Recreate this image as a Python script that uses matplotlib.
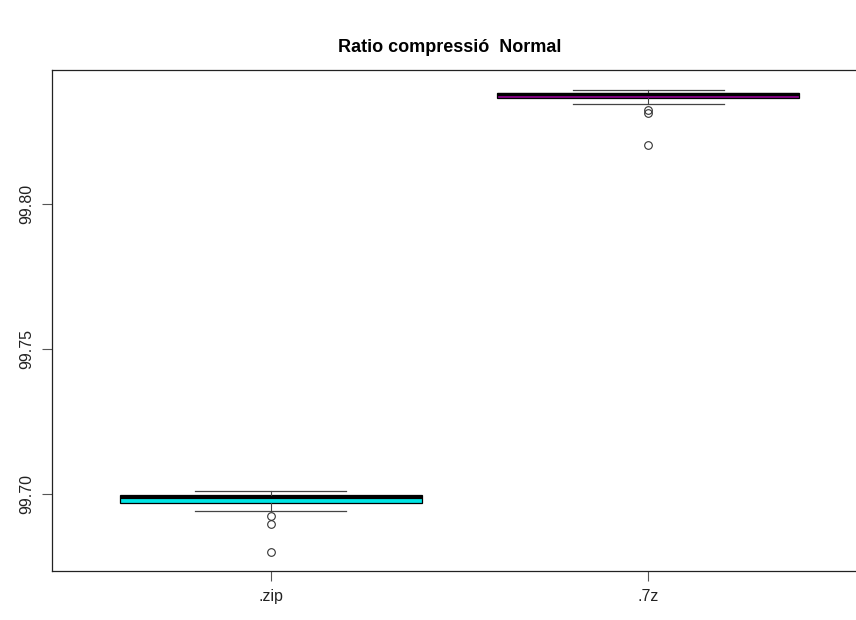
import matplotlib
matplotlib.use("Agg")
import matplotlib.pyplot as plt

# box statistics (R boxplot)
labels = [".zip", ".7z"]
whislo = [99.6941, 99.8345]
q1 = [99.6968, 99.8364]
med = [99.6988, 99.8379]
q3 = [99.6995, 99.8384]
whishi = [99.7010, 99.8393]
fliers = [[99.6925, 99.6895, 99.6801], [99.8324, 99.8314, 99.8203]]
fills = ["#00e5e5", "#8b008b"]

plt.rcParams['font.family'] = ['Liberation Sans', 'DejaVu Sans']

W, H = 856, 620
fig = plt.figure(figsize=(W / 100, H / 100), dpi=100)
# plot region: left 52px, top 70px, bottom 571px, right edge runs past the canvas
ax = fig.add_axes([52 / W, (H - 571) / H, (867 - 52) / W, (571 - 70) / H])

stats = []
for i in range(len(labels)):
    stats.append({"label": labels[i], "whislo": whislo[i], "q1": q1[i], "med": med[i],
                  "q3": q3[i], "whishi": whishi[i], "fliers": fliers[i]})

bp = ax.bxp(stats, positions=[1, 2], widths=0.8, capwidths=0.4, patch_artist=True,
            boxprops=dict(edgecolor="black", linewidth=0.9),
            medianprops=dict(color="black", linewidth=2.3),
            whiskerprops=dict(color="#444444", linewidth=0.8),
            capprops=dict(color="#444444", linewidth=0.9),
            flierprops=dict(marker="o", markerfacecolor="none", markeredgecolor="#333333",
                            markersize=5.5, markeredgewidth=0.8))
for patch, c in zip(bp["boxes"], fills):
    patch.set_facecolor(c)

ax.set_xlim(0.42, 2.58)
ax.set_ylim(99.6734, 99.8462)
ax.set_yticks([99.70, 99.75, 99.80])
ax.set_yticklabels(["99.70", "99.75", "99.80"], rotation=90, va="center")
ax.set_xticks([1, 2])
ax.set_xticklabels(labels)
ax.tick_params(axis="both", length=7, width=0.8, color="#555555", labelsize=11.5,
               labelcolor="#222222", pad=6)
for s in ax.spines.values():
    s.set_linewidth(0.9)
    s.set_color("#222222")

fig.text(450 / W, 1 - 47 / H, "Ratio compressió  Normal", ha="center", va="center",
         fontsize=13, fontweight="bold")

fig.savefig("out.png", dpi=100)
